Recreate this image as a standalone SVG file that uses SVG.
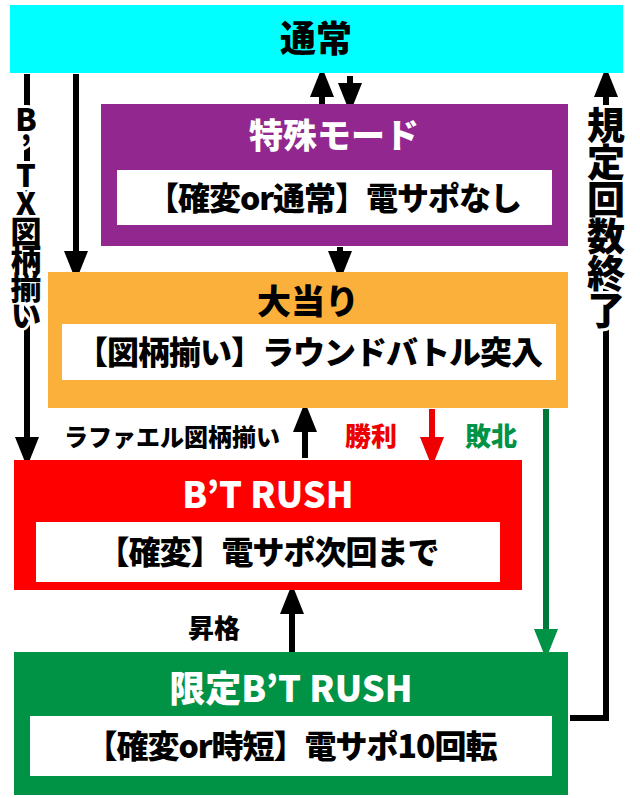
<svg xmlns="http://www.w3.org/2000/svg" width="640" height="798" viewBox="0 0 640 798">
<style>
.t{font-family:"Noto Sans CJK JP","Noto Sans",sans-serif;font-weight:900;text-anchor:middle}
.ln{stroke:#000;stroke-width:6;fill:none}
.vt{font-family:"Noto Sans CJK JP","Noto Sans",sans-serif;font-weight:900;writing-mode:vertical-rl;text-orientation:upright;stroke:#fff;stroke-width:6;paint-order:stroke}
</style>
<defs>
<marker id="ah" markerWidth="5" markerHeight="5" refX="2.5" refY="2.5" orient="auto" markerUnits="strokeWidth"><path d="M0,0.5L5,2.5L0,4.5z" fill="#000"/></marker>
<marker id="ar" markerWidth="5" markerHeight="5" refX="2.5" refY="2.5" orient="auto" markerUnits="strokeWidth"><path d="M0,0.5L5,2.5L0,4.5z" fill="#e00"/></marker>
<marker id="ag" markerWidth="5" markerHeight="5" refX="2.5" refY="2.5" orient="auto" markerUnits="strokeWidth"><path d="M0,0.5L5,2.5L0,4.5z" fill="#009245"/></marker>
</defs>
<rect width="640" height="798" fill="#fff"/>
<g id="connectors">
<line class="ln" x1="27" y1="74" x2="27" y2="452" marker-end="url(#ah)"/>
<line class="ln" x1="76" y1="74" x2="76" y2="266" marker-end="url(#ah)"/>
<line class="ln" x1="322" y1="104" x2="322" y2="82" marker-end="url(#ah)"/>
<line class="ln" x1="350" y1="76" x2="350" y2="98" marker-end="url(#ah)"/>
<line class="ln" x1="340" y1="247" x2="340" y2="266" marker-end="url(#ah)"/>
<line class="ln" x1="305" y1="458" x2="305" y2="417" marker-end="url(#ah)"/>
<line x1="432" y1="409" x2="432" y2="452" stroke="#e00" stroke-width="6" marker-end="url(#ar)"/>
<line x1="546" y1="409" x2="546" y2="644" stroke="#007a3a" stroke-width="6" marker-end="url(#ag)"/>
<line class="ln" x1="292" y1="652" x2="292" y2="599" marker-end="url(#ah)"/>
<polyline class="ln" points="570,718 606,718 606,82" marker-end="url(#ah)"/>
<text class="vt" x="26" y="104" font-size="31" letter-spacing="-3">B’TX図柄揃い</text>
<text class="vt" x="606" y="106" font-size="38" letter-spacing="-1">規定回数終了</text>
<text class="t" x="172" y="446" font-size="24">ラファエル図柄揃い</text>
<text class="t" x="371" y="446" font-size="26" fill="#e00">勝利</text>
<text class="t" x="491" y="446" font-size="26" fill="#009245">敗北</text>
<text class="t" x="214" y="638" font-size="26">昇格</text>
</g>
<g id="normal"><rect x="10" y="5" width="613" height="68" fill="#00ffff"/><text class="t" x="316" y="52" font-size="36">通常</text></g>
<g id="special"><rect x="101" y="104" width="467" height="142" fill="#92278f"/><text class="t" x="334" y="148" font-size="34" fill="#fff">特殊モード</text><rect x="117" y="170" width="435" height="55" fill="#fff"/><text class="t" x="334" y="210" font-size="32" letter-spacing="-1">【確変or通常】電サポなし</text></g>
<g id="bigwin"><rect x="48" y="272" width="520" height="136" fill="#fbb03b"/><text class="t" x="308" y="314" font-size="34">大当り</text><rect x="62" y="324" width="494" height="56" fill="#fff"/><text class="t" x="309" y="364" font-size="32" letter-spacing="-1">【図柄揃い】ラウンドバトル突入</text></g>
<g id="btrush"><rect x="14" y="460" width="508" height="130" fill="#ff0000"/><text class="t" x="268" y="508" font-size="36" fill="#fff">B’T RUSH</text><rect x="36" y="522" width="464" height="60" fill="#fff"/><text class="t" x="268" y="564" font-size="32" letter-spacing="-1">【確変】電サポ次回まで</text></g>
<g id="limited"><rect x="14" y="652" width="554" height="143" fill="#009245"/><text class="t" x="291" y="702" font-size="36" fill="#fff">限定B’T RUSH</text><rect x="30" y="716" width="522" height="60" fill="#fff"/><text class="t" x="291" y="758" font-size="32" letter-spacing="-1">【確変or時短】電サポ10回転</text></g>
</svg>
